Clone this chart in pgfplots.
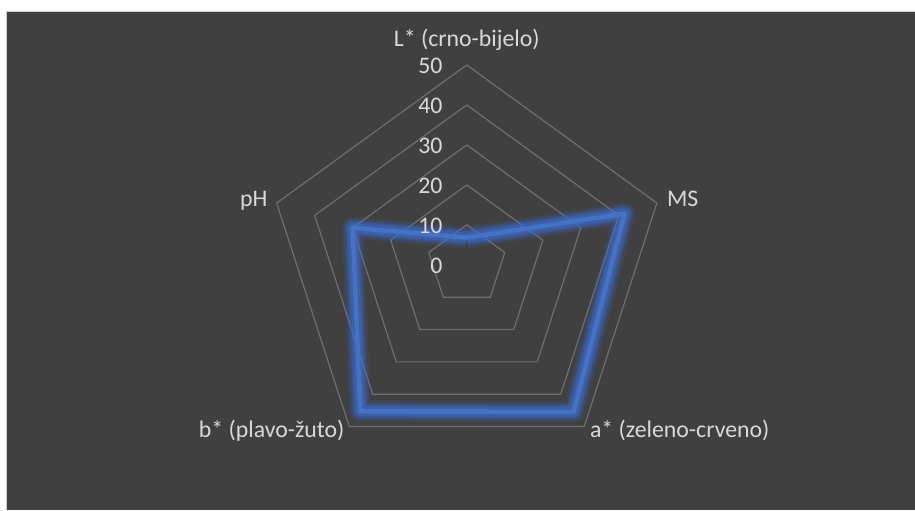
\documentclass[border=0pt]{standalone}
\usepackage{pgfplots}
\usepackage{pgfplotstable}
\pgfplotsset{compat=1.18}
\usepackage{fontspec}
\setmainfont{Carlito}
\definecolor{bg}{HTML}{404040}
\definecolor{gridc}{HTML}{6E6E6E}
\definecolor{txt}{HTML}{D9D9D9}
\definecolor{ser}{HTML}{4472C4}
\definecolor{glow}{HTML}{3C6FDC}
\definecolor{frame}{HTML}{D0D0D0}

\pgfplotstableread{
ang val
90 6.8
18 41.5
-54 45.5
234 45.3
162 30
90 6.8
}\datatab

\begin{document}
\begin{tikzpicture}
\begin{axis}[
  x=2pt, y=2pt, scale only axis, hide axis, clip=false,
  xmin=-116.75, xmax=112, ymin=-61.25, ymax=66.25,
]
% background
\fill[white] (axis cs:-116.75,-61.25) rectangle (axis cs:112,66.25);
\fill[bg] (axis cs:-115,-61.25) rectangle (axis cs:112,63.25);
\draw[frame, line width=0.5pt] (axis cs:-115,-61.25) -- (axis cs:-115,63.25) -- (axis cs:112,63.25);
% grid pentagons
\foreach \r in {10,20,30,40,50}{
  \edef\tmp{\noexpand\addplot[data cs=polar, draw=gridc, line width=0.6pt, line join=miter, forget plot, mark=none]
    coordinates {(90,\r) (18,\r) (-54,\r) (234,\r) (162,\r) (90,\r) (18,\r)};}
  \tmp
}
% glow layers
\addplot[data cs=polar, draw=glow, opacity=0.10, line width=11pt, line join=round, mark=none, forget plot] table[x=ang,y=val] {\datatab};
\addplot[data cs=polar, draw=glow, opacity=0.18, line width=9pt, line join=round, mark=none, forget plot] table[x=ang,y=val] {\datatab};
\addplot[data cs=polar, draw=glow, opacity=0.28, line width=7pt, line join=round, mark=none, forget plot] table[x=ang,y=val] {\datatab};
\addplot[data cs=polar, draw=glow, opacity=0.40, line width=5pt, line join=round, mark=none, forget plot] table[x=ang,y=val] {\datatab};
% main series
\addplot[data cs=polar, draw=ser, line width=2.25pt, line join=round, mark=none] table[x=ang,y=val] {\datatab};
% tick labels
\foreach \r in {0,10,20,30,40,50}{
  \edef\tmp{\noexpand\node[anchor=base east, inner sep=0pt, text=txt, font=\noexpand\fontsize{11.9}{13}\noexpand\selectfont] at (axis cs:-6,\r-2.1) {\r};}
  \tmp
}
% category labels
\begin{scope}[every node/.style={inner sep=0pt, text=txt, font=\fontsize{11.9}{13}\selectfont}]
\node[anchor=base] at (axis cs:0,54.5) {L* (crno-bijelo)};
\node[anchor=base west] at (axis cs:50,14.5) {MS};
\node[anchor=base east] at (axis cs:-49.75,14.5) {pH};
\node[anchor=base east] at (axis cs:-30.5,-43.25) {b* (plavo-žuto)};
\node[anchor=base west] at (axis cs:30.75,-43.25) {a* (zeleno-crveno)};
\end{scope}
\end{axis}
\end{tikzpicture}
\end{document}
